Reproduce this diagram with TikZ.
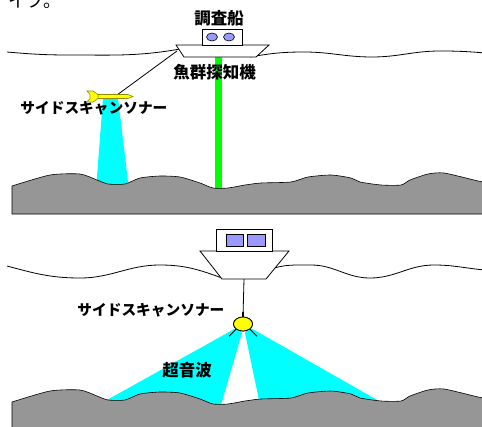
\documentclass[tikz,border=0pt]{standalone}
\usepackage{fontspec}
\newfontfamily\jp{Noto Sans CJK JP}
\usetikzlibrary{shapes.geometric}

\definecolor{grigiofondo}{RGB}{150,150,150}
\definecolor{lilla}{RGB}{153,153,255}
\definecolor{ocra}{RGB}{140,140,0}
\definecolor{ciano}{RGB}{0,255,255}
\definecolor{verde}{RGB}{0,255,0}
\definecolor{giallo}{RGB}{255,255,0}

\begin{document}
\begin{tikzpicture}[x=1pt, y=-1pt, line width=0.8pt,
    testo/.style={font=\jp\bfseries\fontsize{16.5}{18}\selectfont, inner sep=0pt},
    kana/.style={font=\jp\bfseries\fontsize{14.7}{17}\selectfont, inner sep=0pt},
    fondo/.style={fill=grigiofondo, draw=black, line width=0.6pt},
    fascio/.style={fill=ciano, draw=none}]

    \useasboundingbox (0,0) rectangle (482,426);

    % Fondale con offset verticale (#1) e bordo inferiore (#2)
    \newcommand{\fondale}[2]{
        \filldraw[fondo] (12,#2) -- plot[smooth, tension=0.4] coordinates {
            (12,#1+186) (50,#1+175) (80,#1+174) (97,#1+180) (108,#1+184)
            (125,#1+184) (140,#1+178) (160,#1+176) (180,#1+177) (200,#1+183)
            (213,#1+188) (228,#1+188) (245,#1+185) (261,#1+183) (291,#1+182)
            (308,#1+177) (331,#1+175) (351,#1+178) (360,#1+182) (381,#1+185)
            (401,#1+185) (410,#1+180) (428,#1+174) (444,#1+173) (474,#1+180)
            (495,#1+185)} -- (495,#2) -- cycle;
    }

    % Resto del testo sopra (tagliato)
    \node[anchor=base west, font=\jp\fontsize{18}{20}\selectfont, inner sep=0pt] (coda) at (8,7) {イプ。};

    % -- Parte Superiore: nave con sonar trainato --
    \draw (7,52) to[out=-5, in=180] (70,55) to[out=0, in=190] (180,49);
    \draw (250,57) to[out=10, in=180] (304,52) to[out=0, in=180] (372,57)
                   to[out=0, in=180] (440,51) to[out=0, in=175] (485,53);

    \fill[fascio] (103,98) -- (96,190) -- (129,190) -- (118,98) -- cycle;
    \fill[verde] (215,57) rectangle (222,192);

    \fondale{0}{214}

    \coordinate (prua) at (177,51);
    \coordinate (pesce) at (117,95);
    \draw (prua) -- (pesce);

    % scafo e cabina
    \filldraw[fill=white] (176,45) -- (269,45) -- (256,57) -- (184,57) -- cycle;
    \filldraw[fill=white] (202,29) rectangle (242,45);
    \filldraw[fill=lilla, line width=0.6pt] (212,37) ellipse [x radius=5.5, y radius=4];
    \filldraw[fill=lilla, line width=0.6pt] (229,37) ellipse [x radius=5.5, y radius=4];

    % pesce trainato
    \filldraw[fill=giallo, draw=ocra, line width=0.6pt]
        (93,94.5) -- (128,94.5) -- (133,96.5) -- (128,98.5) -- (93,98.5) -- cycle;
    \filldraw[fill=giallo, draw=ocra, line width=0.6pt]
        (87,91) -- (93,91) -- (98,94.5) -- (98,98.5) -- (93,102) -- (87,102)
        -- (90,98.5) -- (90,94.5) -- cycle;

    \node[testo] (nave1) at (219,18) {調査船};
    \node[testo] (ecoscandaglio) at (214.5,72.5) {魚群探知機};
    \node[kana, anchor=west] (sonar1) at (20,108) {サイドスキャンソナー};

    % -- Parte Inferiore: sonar sotto la nave --
    \draw (7,266) to[out=-15, in=180] (80,278) to[out=0, in=180] (160,265)
                  to[out=0, in=160] (222,278);
    \draw (268,270) to[out=20, in=180] (311,265) to[out=0, in=180] (370,278)
                    to[out=0, in=180] (434,265) to[out=0, in=175] (485,270);

    \node[ellipse, fill=giallo, draw, minimum width=19pt, minimum height=14pt,
          inner sep=0pt] (sonar) at (243,324) {};

    \fill[fascio] (238,327) -- (98,405) -- (221,405) -- (242,333) -- cycle;
    \fill[fascio] (245,333) -- (260,405) -- (386,405) -- (249,327) -- cycle;

    \fondale{216}{430}

    \filldraw[fill=white] (200,251) -- (289,251) -- (266,279) -- (222,279) -- cycle;
    \filldraw[fill=white] (216,229) rectangle (272,251);
    \filldraw[fill=lilla, line width=0.6pt] (226,234) rectangle (243,246);
    \filldraw[fill=lilla, line width=0.6pt] (247,234) rectangle (265,246);

    \coordinate (chiglia) at (244,279);
    \draw (chiglia) -- (sonar.north);
    \draw[line width=1.6pt] (sonar.north) -- ++(0,-5);
    \node[ellipse, fill=giallo, draw, minimum width=19pt, minimum height=14pt,
          inner sep=0pt] at (sonar) {};
    \draw (sonar.south west) -- ++(-7,7);
    \draw (sonar.south east) -- ++(7,7);

    \node[kana, anchor=west] (sonar2) at (77,310) {サイドスキャンソナー};
    \node[testo] (ultrasuoni) at (187,370) {超音波};

\end{tikzpicture}
\end{document}
